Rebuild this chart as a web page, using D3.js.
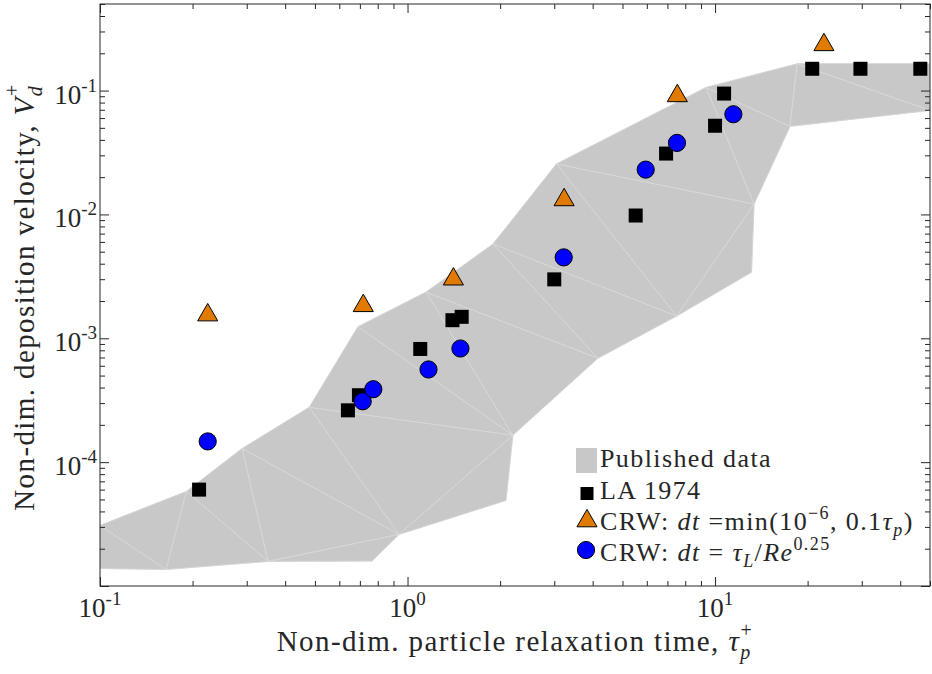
<!DOCTYPE html>
<html>
<head>
<meta charset="utf-8">
<script src="https://cdn.jsdelivr.net/npm/d3@7"></script>
<style>
  body { margin: 0; background: #fff; }
  text { font-family: 'Liberation Serif', 'Times New Roman', 'DejaVu Serif', serif; fill: #262626; }
</style>
</head>
<body>
<script>
var svgWidth = 932;
var svgHeight = 674;

// LA 1974 experiments
var laTau = [0.21, 0.64, 0.695, 1.10, 1.40, 1.50, 3.00, 5.52, 6.93, 10.0, 10.7, 20.7, 29.7, 46.5];
var laVd = [6.0e-5, 2.62e-4, 3.47e-4, 8.2e-4, 1.40e-3, 1.49e-3, 2.99e-3, 9.8e-3, 0.031, 0.052, 0.0946, 0.150, 0.150, 0.150];

// CRW, dt = min(1e-6, 0.1 tau_p)
var crwMinTau = [0.224, 0.718, 1.41, 3.23, 7.54, 22.6];
var crwMinVd = [1.54e-3, 1.83e-3, 3.0e-3, 0.0131, 0.0906, 0.234];

// CRW, dt = tau_L / Re^0.25
var crwTlTau = [0.224, 0.715, 0.774, 1.17, 1.486, 3.22, 5.95, 7.52, 11.47];
var crwTlVd = [1.47e-4, 3.10e-4, 3.88e-4, 5.6e-4, 8.27e-4, 4.5e-3, 0.023, 0.0378, 0.0644];

// published data band: upper edge (0-10) then lower edge (11-23)
var pubTau = [0.1, 0.191, 0.290, 0.479, 0.690, 1.149, 1.897, 3.05, 9.35, 18.48, 50,
              0.1, 0.164, 0.352, 0.767, 0.938, 2.09, 2.20, 4.16, 7.50, 13.14, 13.39, 17.53, 50];
var pubVd = [3.08e-5, 5.8e-5, 1.29e-4, 2.77e-4, 1.24e-3, 2.36e-3, 5.77e-3, 0.02555, 0.106, 0.1644, 0.1644,
             1.385e-5, 1.36e-5, 1.58e-5, 1.59e-5, 2.61e-5, 4.91e-5, 1.65e-4, 6.9e-4, 1.51e-3, 3.42e-3, 0.01213, 0.0514, 0.0692];
var pubMesh = [[0, 11, 12], [0, 12, 1], [1, 12, 13], [1, 13, 2], [2, 13, 15], [13, 14, 15],
               [2, 3, 15], [3, 15, 17], [15, 16, 17], [3, 4, 17], [4, 5, 17], [5, 17, 18],
               [5, 6, 18], [6, 18, 19], [6, 7, 19], [7, 19, 21], [19, 20, 21], [7, 8, 21],
               [8, 21, 22], [8, 9, 22], [9, 22, 23], [9, 10, 23]];

var xTickExp = [-1, 0, 1];
var yTickExp = [-1, -2, -3, -4];

var plotLeft = 100, plotRight = 930, plotTop = 4, plotBottom = 586;

var svg = d3.select('body').append('svg')
  .attr('width', svgWidth)
  .attr('height', svgHeight)
  .style('display', 'block');

svg.append('rect').attr('width', svgWidth).attr('height', svgHeight).attr('fill', '#fff');

var x = d3.scaleLog().domain([0.1, 50]).range([plotLeft, plotRight]);
var y = d3.scaleLog().domain([1e-5, 0.5]).range([plotBottom, plotTop]);

svg.append('clipPath').attr('id', 'plotclip')
  .append('rect')
  .attr('x', plotLeft).attr('y', plotTop)
  .attr('width', plotRight - plotLeft).attr('height', plotBottom - plotTop);

var plot = svg.append('g').attr('clip-path', 'url(#plotclip)');

var triPoints = function(tri) {
  return tri.map(function(i) { return x(pubTau[i]) + ',' + y(pubVd[i]); }).join(' ');
};

plot.selectAll('.pubfill')
  .data(pubMesh)
  .enter()
  .append('polygon')
  .attr('class', 'pubfill')
  .attr('points', triPoints)
  .attr('fill', '#c8c8c8')
  .attr('stroke', '#c8c8c8')
  .attr('stroke-width', 0.8);

plot.selectAll('.pubedge')
  .data(pubMesh)
  .enter()
  .append('polygon')
  .attr('class', 'pubedge')
  .attr('points', triPoints)
  .attr('fill', 'none')
  .attr('stroke', '#dcdcdc')
  .attr('stroke-width', 0.5);

// axes: ticks inward on all four sides
var isMajor = function(v) { return Math.abs(Math.log10(v) - Math.round(Math.log10(v))) < 1e-9; };
var xTicks = x.ticks();
var yTicks = y.ticks();

var addAxis = function(axisFn, scale, ticks, transform) {
  var g = svg.append('g').attr('transform', transform);
  g.call(axisFn(scale).tickValues(ticks.filter(isMajor)).tickSize(-9).tickFormat(''));
  var g2 = svg.append('g').attr('transform', transform);
  g2.call(axisFn(scale).tickValues(ticks.filter(function(v) { return !isMajor(v); })).tickSize(-5).tickFormat(''));
  [g, g2].forEach(function(a) {
    a.select('.domain').remove();
    a.selectAll('text').remove();
    a.selectAll('line').attr('stroke', '#262626');
  });
};

addAxis(d3.axisBottom, x, xTicks, 'translate(0,' + plotBottom + ')');
addAxis(d3.axisTop, x, xTicks, 'translate(0,' + plotTop + ')');
addAxis(d3.axisLeft, y, yTicks, 'translate(' + plotLeft + ',0)');
addAxis(d3.axisRight, y, yTicks, 'translate(' + plotRight + ',0)');

svg.append('rect')
  .attr('x', plotLeft).attr('y', plotTop)
  .attr('width', plotRight - plotLeft).attr('height', plotBottom - plotTop)
  .attr('fill', 'none')
  .attr('stroke', '#262626')
  .attr('stroke-width', 1);

// text with sub/superscripts
var richText = function(sel, parts) {
  var shift = 0;
  parts.forEach(function(p) {
    var off = p.dy || 0;
    var ts = sel.append('tspan').text(p.t).attr('dy', off - shift);
    shift = off;
    if (p.dx) ts.attr('dx', p.dx);
    if (p.it) ts.style('font-style', 'italic');
    if (p.size) ts.style('font-size', p.size + 'px');
  });
};

xTickExp.forEach(function(e) {
  var t = svg.append('text')
    .attr('x', x(Math.pow(10, e)))
    .attr('y', 617)
    .attr('text-anchor', 'middle')
    .style('font-size', '27px');
  richText(t, [{t: '10'}, {t: String(e), dy: -12, size: 19}]);
});

yTickExp.forEach(function(e) {
  var t = svg.append('text')
    .attr('x', 97)
    .attr('y', y(Math.pow(10, e)) + 13)
    .attr('text-anchor', 'end')
    .style('font-size', '27px');
  richText(t, [{t: '10'}, {t: String(e), dy: -12, size: 19}]);
});

var axisLabelSize = 29;
var labelSize = 26;
var labelSpacing = 1.4;

var xl = svg.append('text')
  .attr('x', 515)
  .attr('y', 651)
  .attr('text-anchor', 'middle')
  .style('font-size', axisLabelSize + 'px')
  .style('letter-spacing', labelSpacing + 'px');
richText(xl, [
  {t: 'Non-dim. particle relaxation time, '},
  {t: 'τ', it: true},
  {t: 'p', it: true, dy: 8, size: 20},
  {t: '+', dy: -14, dx: -11, size: 20}
]);

var yl = svg.append('text')
  .attr('transform', 'translate(34,297) rotate(-90)')
  .attr('text-anchor', 'middle')
  .style('font-size', axisLabelSize + 'px')
  .style('letter-spacing', labelSpacing + 'px');
richText(yl, [
  {t: 'Non-dim. deposition velocity, '},
  {t: 'V', it: true},
  {t: 'd', it: true, dy: 8, size: 20},
  {t: '+', dy: -15, dx: -11, size: 20}
]);

// data markers
var tri = d3.symbol().type(d3.symbolTriangle).size(175);

plot.selectAll('.la')
  .data(laTau)
  .enter()
  .append('rect')
  .attr('class', 'la')
  .attr('x', function(d) { return x(d) - 7; })
  .attr('y', function(d, i) { return y(laVd[i]) - 7; })
  .attr('width', 14)
  .attr('height', 14)
  .attr('fill', '#000');

plot.selectAll('.crwmin')
  .data(crwMinTau)
  .enter()
  .append('path')
  .attr('class', 'crwmin')
  .attr('d', tri)
  .attr('transform', function(d, i) { return 'translate(' + x(d) + ',' + y(crwMinVd[i]) + ')'; })
  .attr('fill', '#e07b00')
  .attr('stroke', '#000')
  .attr('stroke-width', 1);

plot.selectAll('.crwtl')
  .data(crwTlTau)
  .enter()
  .append('circle')
  .attr('class', 'crwtl')
  .attr('cx', function(d) { return x(d); })
  .attr('cy', function(d, i) { return y(crwTlVd[i]); })
  .attr('r', 8.6)
  .attr('fill', '#0000ff')
  .attr('stroke', '#000')
  .attr('stroke-width', 1);

// legend
var lg = svg.append('g');
var legX = 587, legTextX = 600;
var rowY = [467, 499, 530, 561];

lg.append('rect').attr('x', legX - 11).attr('y', rowY[0] - 19).attr('width', 21).attr('height', 25).attr('fill', '#c8c8c8');
lg.append('rect').attr('x', legX - 6.5).attr('y', rowY[1] - 12).attr('width', 13).attr('height', 13).attr('fill', '#000');
lg.append('path').attr('d', tri).attr('transform', 'translate(' + legX + ',' + (rowY[2] - 9) + ')')
  .attr('fill', '#e07b00').attr('stroke', '#000');
lg.append('circle').attr('cx', legX - 1).attr('cy', rowY[3] - 11).attr('r', 8.6)
  .attr('fill', '#0000ff').attr('stroke', '#000');

var legendRows = [
  [{t: 'Published data'}],
  [{t: 'LA 1974'}],
  [{t: 'CRW: '}, {t: 'dt', it: true}, {t: ' =min(10'}, {t: '−6', dy: -11, size: 18}, {t: ', 0.1'},
   {t: 'τ', it: true}, {t: 'p', it: true, dy: 6, size: 18}, {t: ')'}],
  [{t: 'CRW: '}, {t: 'dt', it: true}, {t: ' = '}, {t: 'τ', it: true}, {t: 'L', it: true, dy: 6, size: 18},
   {t: '/'}, {t: 'Re', it: true}, {t: '0.25', dy: -11, size: 18}]
];

legendRows.forEach(function(parts, i) {
  var t = lg.append('text')
    .attr('x', legTextX)
    .attr('y', rowY[i])
    .style('font-size', labelSize + 'px')
    .style('letter-spacing', labelSpacing + 'px');
  richText(t, parts);
});
</script>
</body>
</html>
